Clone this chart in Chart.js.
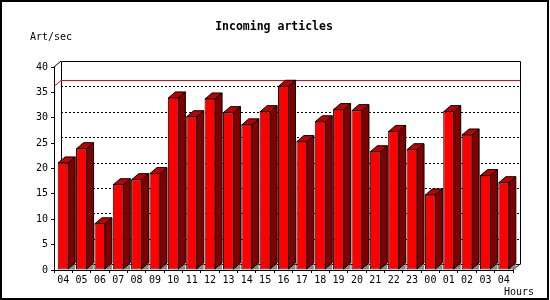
<!DOCTYPE html>
<html>
<head>
<meta charset="utf-8">
<script src="https://cdn.jsdelivr.net/npm/chart.js@4/dist/chart.umd.min.js"></script>
<style>
  body { margin: 0; background: #fff; }
  canvas { display: block; }
</style>
</head>
<body>
<canvas id="chart" width="550" height="300"></canvas>
<script>
// Hours of the day (x categories)
const hours = ['04', '05', '06', '07', '08', '09', '10', '11', '12', '13', '14', '15', '16',
               '17', '18', '19', '20', '21', '22', '23', '00', '01', '02', '03', '04'];

// Incoming articles per second
const articles = [21.2, 24.0, 9.2, 16.9, 17.9, 19.1, 34.0, 30.3, 33.8, 31.1, 28.7, 31.3, 36.3,
                  25.4, 29.3, 31.7, 31.5, 23.4, 27.4, 23.8, 14.9, 31.3, 26.7, 18.7, 17.3];

// y axis range
const yMin = 0;
const yMax = 40;
const yStep = 5;

const titleText = 'Incoming articles';
const yTitle = 'Art/sec';
const xTitle = 'Hours';

// depth of the fake 3d look
const DX = 7;
const DY = -6;

const monoFont = '"DejaVu Sans Mono", "Liberation Mono", monospace';

// back wall, dotted grid and max line, drawn behind the bars
const backWall = {
    id: 'backWall',
    beforeDatasetsDraw(chart) {
        const { ctx, chartArea: a, scales: { y } } = chart;
        const L = a.left, R = a.right, B = a.bottom;
        const topBack = Math.round(y.getPixelForValue(yMax) + DY) + 0.5;
        const bottomBack = Math.round(y.getPixelForValue(yMin) + DY) + 0.5;
        ctx.save();
        ctx.lineWidth = 1;

        // dotted grid on the back wall
        ctx.strokeStyle = '#000';
        ctx.setLineDash([2, 2]);
        for (let v = yMin + yStep; v < yMax; v += yStep) {
            const yy = Math.round(y.getPixelForValue(v) + DY) + 0.5;
            ctx.beginPath();
            ctx.moveTo(L + DX, yy);
            ctx.lineTo(R + DX, yy);
            ctx.stroke();
        }
        ctx.setLineDash([]);

        // frame of the back wall
        ctx.beginPath();
        ctx.moveTo(L + DX + 0.5, bottomBack);
        ctx.lineTo(L + DX + 0.5, topBack);
        ctx.lineTo(R + DX + 0.5, topBack);
        ctx.lineTo(R + DX + 0.5, bottomBack);
        ctx.stroke();

        // connecting edges
        const frontTop = Math.round(y.getPixelForValue(yMax));
        ctx.beginPath();
        ctx.moveTo(L, frontTop);
        ctx.lineTo(L + DX, frontTop + DY);
        ctx.moveTo(R, B);
        ctx.lineTo(R + DX, B + DY);
        ctx.moveTo(L + DX, bottomBack);
        ctx.lineTo(R + DX, bottomBack);
        ctx.stroke();

        // max value line
        const maxVal = Math.max(...articles);
        const ym = Math.round(y.getPixelForValue(maxVal)) + 0.5;
        ctx.strokeStyle = '#ff0000';
        ctx.beginPath();
        ctx.moveTo(L, ym);
        ctx.lineTo(L + DX, ym + DY);
        ctx.lineTo(R + DX, ym + DY);
        ctx.stroke();
        ctx.restore();
    }
};

// side and top faces of each bar
const bars3d = {
    id: 'bars3d',
    afterDatasetsDraw(chart) {
        const { ctx } = chart;
        const meta = chart.getDatasetMeta(0);
        ctx.save();
        ctx.lineWidth = 1;
        ctx.strokeStyle = '#000';
        meta.data.forEach(bar => {
            const p = bar.getProps(['x', 'y', 'base', 'width'], true);
            const x1 = p.x - p.width / 2 + 0.5;
            const x2 = p.x + p.width / 2 - 0.5;
            const top = p.y + 0.5;
            const base = p.base - 0.5;

            // floor shadow
            ctx.fillStyle = '#888888';
            ctx.beginPath();
            ctx.moveTo(x2, base + 0.5);
            ctx.lineTo(x2 + DX, base + 0.5 + DY);
            ctx.lineTo(x2 + DX, base + 0.5);
            ctx.closePath();
            ctx.fill();

            // side
            ctx.fillStyle = '#800000';
            ctx.beginPath();
            ctx.moveTo(x2, top);
            ctx.lineTo(x2 + DX, top + DY);
            ctx.lineTo(x2 + DX, base + DY);
            ctx.lineTo(x2, base);
            ctx.closePath();
            ctx.fill();
            ctx.stroke();

            // top
            ctx.fillStyle = '#c00000';
            ctx.beginPath();
            ctx.moveTo(x1, top);
            ctx.lineTo(x1 + DX, top + DY);
            ctx.lineTo(x2 + DX, top + DY);
            ctx.lineTo(x2, top);
            ctx.closePath();
            ctx.fill();
            ctx.stroke();
        });
        ctx.restore();
    }
};

// titles and outer frame
const decorations = {
    id: 'decorations',
    afterDraw(chart) {
        const { ctx } = chart;
        ctx.save();
        ctx.fillStyle = '#000';
        ctx.textBaseline = 'middle';

        ctx.font = 'bold 11.5px ' + monoFont;
        ctx.textAlign = 'center';
        ctx.fillText(titleText, 274, 27);

        ctx.font = '10px ' + monoFont;
        ctx.textAlign = 'left';
        ctx.fillText(yTitle, 30, 37);
        ctx.fillText(xTitle, 504, 292);

        ctx.strokeStyle = '#000';
        ctx.lineWidth = 2;
        ctx.strokeRect(1, 1, 547, 298);
        ctx.restore();
    }
};

const ctx = document.getElementById('chart').getContext('2d');
new Chart(ctx, {
    type: 'bar',
    data: {
        labels: hours,
        datasets: [{
            label: 'Art/sec',
            data: articles,
            backgroundColor: '#ff0000',
            borderColor: '#000',
            borderWidth: 1,
            borderSkipped: false,
            barPercentage: 0.6,
            categoryPercentage: 1.0
        }]
    },
    options: {
        responsive: false,
        animation: false,
        devicePixelRatio: 1,
        layout: {
            padding: { left: 0, top: 67, right: 37, bottom: 0 }
        },
        plugins: {
            legend: { display: false },
            tooltip: { enabled: false },
            title: { display: false }
        },
        scales: {
            x: {
                offset: true,
                grid: {
                    display: true,
                    offset: true,
                    drawOnChartArea: false,
                    drawTicks: true,
                    tickLength: 3,
                    color: '#000'
                },
                border: { display: true, color: '#000' },
                ticks: {
                    color: '#000',
                    font: { family: monoFont, size: 10 },
                    padding: 1,
                    maxRotation: 0,
                    autoSkip: false
                },
                afterFit(scale) { scale.height = 30; }
            },
            y: {
                min: yMin,
                max: yMax,
                grid: {
                    display: true,
                    drawOnChartArea: false,
                    drawTicks: true,
                    tickLength: 3,
                    color: '#000'
                },
                border: { display: true, color: '#000' },
                ticks: {
                    stepSize: yStep,
                    color: '#000',
                    font: { family: monoFont, size: 10 },
                    padding: 3
                },
                afterFit(scale) { scale.width = 54; }
            }
        }
    },
    plugins: [backWall, bars3d, decorations]
});
</script>
</body>
</html>
